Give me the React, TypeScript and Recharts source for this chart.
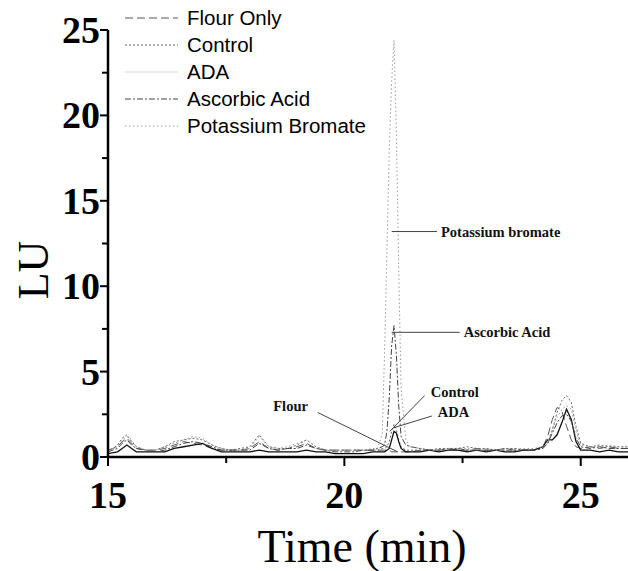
import React from "react";
import { LineChart, Line, XAxis, YAxis, Legend, ReferenceLine } from "recharts";

// retention time (min)
const times = [
  15.0, 15.2, 15.3, 15.4, 15.5, 15.6, 15.8, 16.0, 16.2, 16.4,
  16.6, 16.8, 17.0, 17.2, 17.4, 17.6, 17.8, 18.0, 18.2, 18.4,
  18.6, 18.8, 19.0, 19.2, 19.4, 19.6, 19.8, 20.0, 20.2, 20.4,
  20.6, 20.7, 20.8, 20.85, 20.9, 20.95, 21.0, 21.05, 21.1, 21.15,
  21.2, 21.3, 21.4, 21.6, 21.8, 22.0, 22.2, 22.4, 22.6, 22.8,
  23.0, 23.2, 23.4, 23.6, 23.8, 24.0, 24.2, 24.3, 24.4, 24.5,
  24.6, 24.7, 24.8, 24.9, 25.0, 25.2, 25.4, 25.6, 25.8, 26.0,
];

const flourOnly = [
  0.4, 0.6, 0.9, 1.1, 0.8, 0.5, 0.4, 0.4, 0.5, 0.7,
  0.9, 0.8, 0.7, 0.5, 0.4, 0.4, 0.4, 0.5, 0.9, 0.5,
  0.4, 0.5, 0.6, 0.8, 0.5, 0.4, 0.4, 0.4, 0.4, 0.4,
  0.4, 0.4, 0.4, 0.4, 0.4, 0.4, 0.3, 0.3, 0.3, 0.3,
  0.3, 0.3, 0.3, 0.4, 0.4, 0.4, 0.5, 0.4, 0.4, 0.5,
  0.4, 0.4, 0.5, 0.4, 0.4, 0.4, 0.6, 1.2, 2.2, 2.9,
  2.7, 1.8, 1.0, 0.6, 0.5, 0.6, 0.5, 0.6, 0.5, 0.5,
];

const control = [
  0.3, 0.7, 1.1, 1.3, 0.9, 0.6, 0.4, 0.4, 0.6, 0.9,
  1.0, 1.1, 1.0, 0.7, 0.5, 0.4, 0.5, 0.6, 1.3, 0.6,
  0.5, 0.5, 0.7, 1.0, 0.6, 0.4, 0.4, 0.4, 0.4, 0.4,
  0.4, 0.4, 0.5, 0.5, 0.6, 0.9, 1.5, 1.9, 1.6, 1.0,
  0.6, 0.4, 0.4, 0.4, 0.4, 0.5, 0.5, 0.5, 0.6, 0.5,
  0.5, 0.4, 0.5, 0.5, 0.4, 0.4, 0.5, 0.8, 1.6, 2.6,
  3.3, 3.6, 3.2, 1.8, 0.8, 0.6, 0.7, 0.6, 0.6, 0.6,
];

const ada = [
  0.2, 0.3, 0.5, 0.7, 0.5, 0.3, 0.3, 0.3, 0.3, 0.5,
  0.6, 0.7, 0.8, 0.5, 0.3, 0.3, 0.3, 0.3, 0.4, 0.3,
  0.3, 0.3, 0.3, 0.4, 0.3, 0.3, 0.2, 0.2, 0.2, 0.2,
  0.3, 0.3, 0.3, 0.3, 0.4, 0.5, 1.0, 1.5, 1.4, 0.9,
  0.5, 0.3, 0.3, 0.3, 0.4, 0.3, 0.4, 0.4, 0.3, 0.4,
  0.3, 0.4, 0.3, 0.3, 0.4, 0.4, 0.6, 1.0, 1.0, 1.3,
  2.0, 2.8, 2.2, 0.9, 0.4, 0.4, 0.3, 0.4, 0.3, 0.3,
];

const ascorbicAcid = [
  0.3, 0.5, 0.8, 1.0, 0.7, 0.5, 0.4, 0.3, 0.4, 0.6,
  0.8, 0.9, 0.8, 0.6, 0.4, 0.4, 0.4, 0.4, 0.8, 0.5,
  0.4, 0.5, 0.5, 0.7, 0.5, 0.4, 0.3, 0.3, 0.3, 0.4,
  0.4, 0.5, 0.6, 0.7, 1.5, 3.5, 6.5, 7.7, 6.0, 3.0,
  1.2, 0.7, 0.6, 0.5, 0.4, 0.4, 0.4, 0.5, 0.4, 0.4,
  0.4, 0.4, 0.4, 0.4, 0.4, 0.4, 0.5, 0.8, 1.4, 2.0,
  2.4, 2.5, 2.1, 1.1, 0.6, 0.5, 0.6, 0.5, 0.5, 0.5,
];

const potassiumBromate = [
  0.4, 0.6, 1.0, 1.2, 1.0, 0.6, 0.4, 0.4, 0.6, 0.8,
  1.0, 1.2, 1.1, 0.7, 0.5, 0.4, 0.4, 0.5, 1.2, 0.6,
  0.5, 0.6, 0.8, 1.0, 0.6, 0.4, 0.4, 0.4, 0.4, 0.4,
  0.5, 0.5, 1.3, 6.0, 12.0, 18.0, 22.0, 24.4, 19.0, 11.0,
  4.0, 1.0, 0.6, 0.5, 0.4, 0.4, 0.5, 0.5, 0.5, 0.4,
  0.5, 0.4, 0.4, 0.5, 0.5, 0.5, 0.6, 0.9, 1.6, 2.3,
  2.8, 3.0, 2.8, 1.5, 0.7, 0.6, 0.6, 0.7, 0.6, 0.6,
];

const xTicks = [15, 17.5, 20, 22.5, 25];
const yTicks = [0, 2.5, 5, 7.5, 10, 12.5, 15, 17.5, 20, 22.5, 25];

// peak labels: segment end points in (min, LU)
const annotations = [
  { text: "Potassium bromate", x1: 21.0, y1: 13.2, x2: 21.96, y2: 13.2, corner: "right" },
  { text: "Ascorbic Acid", x1: 21.0, y1: 7.3, x2: 22.44, y2: 7.3, corner: "right" },
  { text: "Flour", x1: 19.44, y1: 2.6, x2: 21.13, y2: 0.3, corner: "left" },
  { text: "Control", x1: 20.96, y1: 1.5, x2: 21.7, y2: 3.6, corner: "up" },
  { text: "ADA", x1: 21.03, y1: 1.7, x2: 21.85, y2: 2.4, corner: "up" },
];

const serif = "'Liberation Serif', 'Times New Roman', serif";
const sans = "'Liberation Sans', Arial, sans-serif";

const series = [
  { key: "flour", name: "Flour Only", stroke: "#555", dash: "8 4", width: 1, legendOpacity: 1 },
  { key: "control", name: "Control", stroke: "#666", dash: "2 2", width: 1, legendOpacity: 1 },
  { key: "ada", name: "ADA", stroke: "#111", dash: undefined, width: 1.3, legendOpacity: 0.15 },
  { key: "ascorbic", name: "Ascorbic Acid", stroke: "#444", dash: "6 2 2 2", width: 1, legendOpacity: 1 },
  { key: "bromate", name: "Potassium Bromate", stroke: "#999", dash: "1.5 2.5", width: 1, legendOpacity: 1 },
];

const data = times.map((t, i) => ({
  time: t,
  flour: flourOnly[i],
  control: control[i],
  ada: ada[i],
  ascorbic: ascorbicAcid[i],
  bromate: potassiumBromate[i],
}));

const XTick = ({ x, y, payload }: any) => {
  const major = payload.value % 5 === 0;
  return (
    <g>
      <line x1={x} x2={x} y1={y} y2={y + (major ? 9 : 6)} stroke="#000" strokeWidth={2} />
      {major && (
        <text x={x} y={y + 51} textAnchor="middle" fontSize={38} fontWeight="bold" fontFamily={serif} fill="#000">
          {payload.value}
        </text>
      )}
    </g>
  );
};

const YTick = ({ x, y, payload }: any) => {
  const major = payload.value % 5 === 0;
  return (
    <g>
      <line x1={x} x2={x - (major ? 8 : 6)} y1={y} y2={y} stroke="#000" strokeWidth={2} />
      {major && (
        <text x={x - 8} y={y + 13} textAnchor="end" fontSize={38} fontWeight="bold" fontFamily={serif} fill="#000">
          {payload.value}
        </text>
      )}
    </g>
  );
};

const renderLegend = () => (
  <div style={{ fontFamily: sans, fontSize: 20.5, color: "#000" }}>
    {series.map((s) => (
      <div key={s.key} style={{ display: "flex", alignItems: "center", height: 27 }}>
        <svg width={62} height={10}>
          <line x1={7} x2={60} y1={5} y2={5} stroke={s.stroke} strokeWidth={1}
            strokeDasharray={s.dash} opacity={s.legendOpacity} />
        </svg>
        <span style={{ marginLeft: 7 }}>{s.name}</span>
      </div>
    ))}
  </div>
);

const annotationLabel = (text: string, corner: string) => (props: any) => {
  const vb = props.viewBox;
  let tx = vb.x + vb.width + 4;
  let ty = vb.y + 5;
  let anchor = "start";
  if (corner === "left") {
    tx = vb.x - 10;
    ty = vb.y - 2;
    anchor = "end";
  } else if (corner === "up") {
    tx = vb.x + vb.width + 6;
    ty = vb.y + 1;
  }
  return (
    <text x={tx} y={ty} textAnchor={anchor} fontSize={14.5} fontWeight="bold" fontFamily={serif} fill="#111">
      {text}
    </text>
  );
};

export default function App() {
  return (
    <div style={{ position: "absolute", left: 0, top: 0, background: "#fff" }}>
      <LineChart width={628} height={571} data={data} margin={{ top: 30, right: 0, bottom: 0, left: 0 }}>
        <XAxis
          dataKey="time"
          type="number"
          domain={[15, 26]}
          ticks={xTicks}
          allowDataOverflow
          height={114}
          tickSize={0}
          tickMargin={0}
          tick={<XTick />}
          axisLine={{ stroke: "#000", strokeWidth: 2.5 }}
          label={{
            content: () => (
              <text x={362} y={562} textAnchor="middle" fontSize={46} fontFamily={serif} fill="#000">
                Time (min)
              </text>
            ),
          }}
        />
        <YAxis
          type="number"
          domain={[0, 25]}
          ticks={yTicks}
          width={108}
          tickSize={0}
          tickMargin={0}
          tick={<YTick />}
          axisLine={{ stroke: "#000", strokeWidth: 2.5 }}
          label={{
            content: () => (
              <text x={48} y={270} transform="rotate(-90 48 270)" textAnchor="middle" fontSize={44} fontFamily={serif} fill="#000">
                LU
              </text>
            ),
          }}
        />
        <Legend
          layout="vertical"
          align="center"
          verticalAlign="middle"
          content={renderLegend}
          wrapperStyle={{ left: 118, top: 4, width: 340, height: "auto" }}
        />
        {series.map((s) => (
          <Line
            key={s.key}
            dataKey={s.key}
            name={s.name}
            type="linear"
            stroke={s.stroke}
            strokeWidth={s.width}
            strokeDasharray={s.dash}
            dot={false}
            activeDot={false}
            isAnimationActive={false}
          />
        ))}
        {annotations.map((a) => (
          <ReferenceLine
            key={a.text}
            segment={[{ x: a.x1, y: a.y1 }, { x: a.x2, y: a.y2 }]}
            stroke="#444"
            strokeWidth={1}
            label={annotationLabel(a.text, a.corner)}
          />
        ))}
      </LineChart>
    </div>
  );
}
